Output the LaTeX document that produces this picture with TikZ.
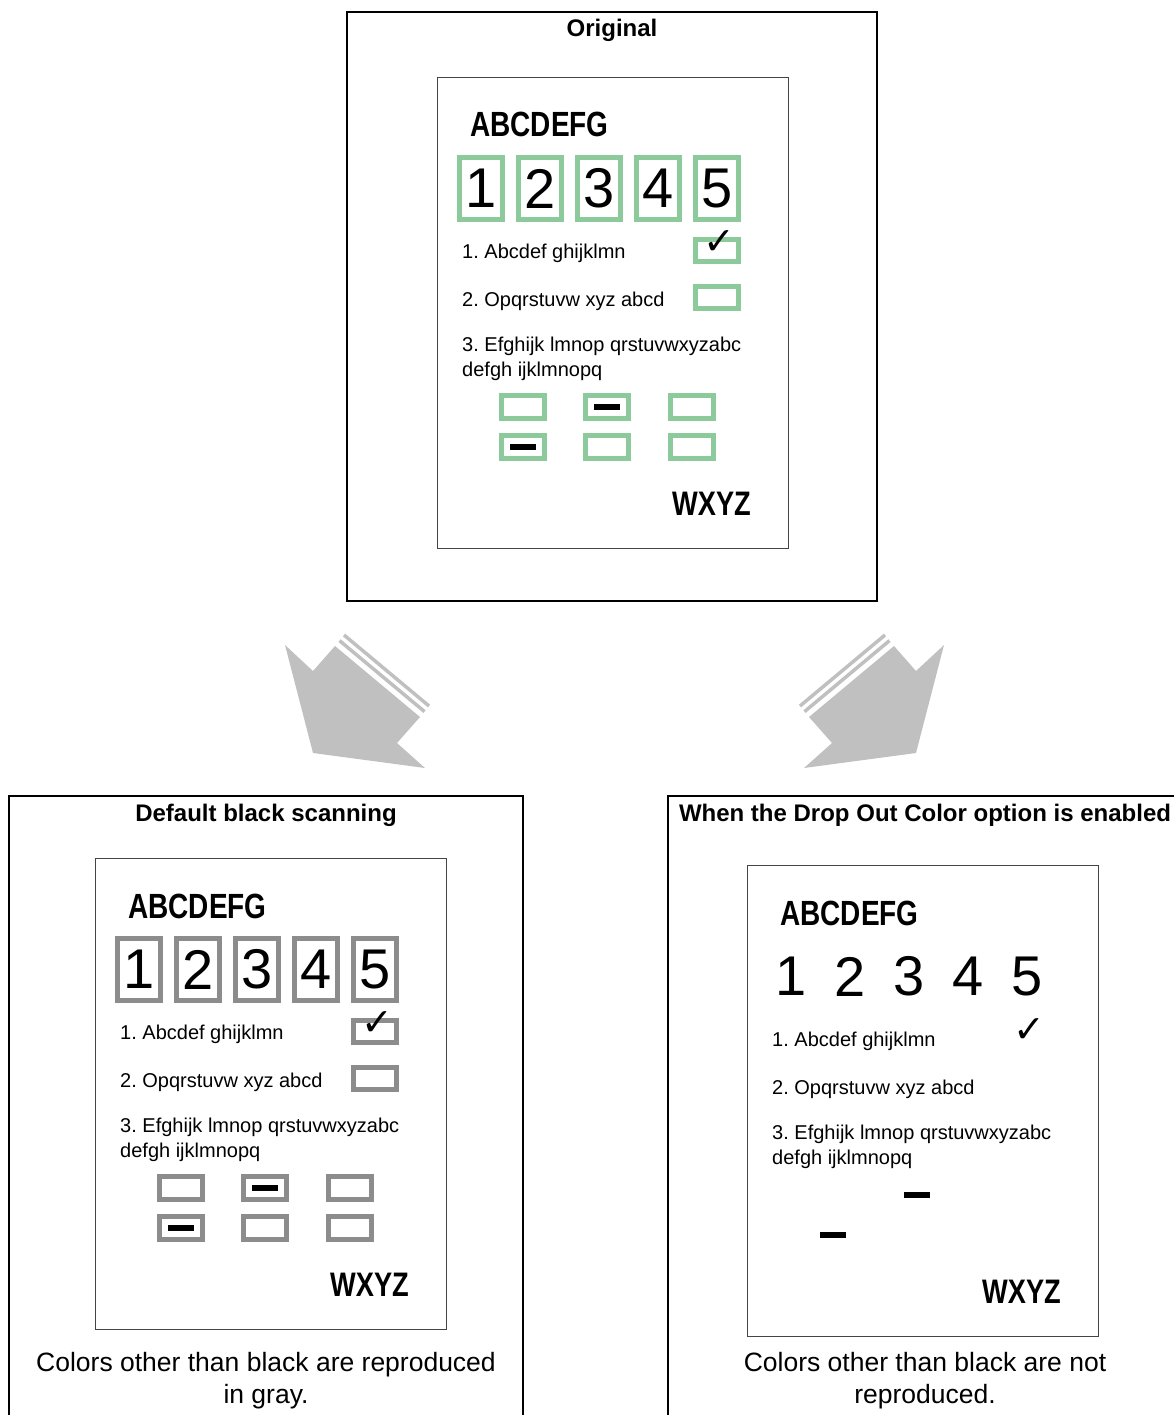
\documentclass[tikz,border=0pt]{standalone}
\usepackage{fontspec}
\setmainfont{Liberation Sans}
\newfontfamily\narrowbold[FakeStretch=0.8]{Liberation Sans}
\newfontfamily\symbolfont{DejaVu Sans}
\usetikzlibrary{positioning,calc}

\definecolor{formgreen}{HTML}{8CC99B}
\definecolor{formgray}{HTML}{8C8C8C}
\definecolor{arrowgray}{HTML}{C0C0C0}
\definecolor{edgegray}{HTML}{454545}

\tikzset{
  panel/.style={draw=black,line width=1.6pt},
  sheet/.style={draw=edgegray,line width=1.3pt,anchor=north west,inner sep=0pt,minimum width=351pt,minimum height=471pt},
  digitbox/.style={line width=5pt,minimum width=43pt,minimum height=62pt,inner sep=0pt,font=\fontsize{56}{56}\selectfont},
  tickbox/.style={line width=5pt,minimum width=43pt,minimum height=22pt,inner sep=0pt},
  markbox/.style={line width=5pt,minimum width=43pt,minimum height=23pt,inner sep=0pt},
  qtext/.style={anchor=base west,inner sep=0pt,align=left,font=\fontsize{20}{25}\selectfont},
  heading/.style={inner sep=0pt,font=\narrowbold\bfseries\fontsize{35}{35}\selectfont},
  paneltitle/.style={anchor=base,inner sep=0pt,font=\bfseries\fontsize{24}{24}\selectfont},
  capline/.style={anchor=base,inner sep=0pt,align=center,font=\fontsize{26.5}{32}\selectfont},
  pics/feedarrow/.style={code={
    \fill[arrowgray] (285,645) -- (313,671) -- (335,646) -- (420,717) -- (397,743)
      -- (425,768) -- (313,753) -- cycle;
    \draw[arrowgray,line width=3.5pt] (339.5,640.6) -- (424.5,711.6);
    \draw[arrowgray,line width=3.5pt] (344,635) -- (429,706);
  }}
}

% one scanned sheet: #1 name, #2 top left corner, #3 look of the boxes
\newcommand{\scanform}[3]{%
  \begin{scope}[shift={#2}]
    \node[sheet] (#1) at (0,0) {};
    \node[heading,anchor=base west] (#1-head) at (33,60) {ABCDEFG};
    \foreach \d [count=\i from 0] in {1,...,5}
      \node[digitbox,#3] (#1-d\d) at (44+59*\i,111.5) {\d};
    \node[tickbox,#3] (#1-c1) at (280,173.5) {};
    \node[tickbox,#3] (#1-c2) at (280,220.5) {};
    \node[inner sep=0pt,font=\symbolfont\fontsize{38}{38}\selectfont] (#1-tick) at (282,166) {✓};
    \node[qtext] (#1-q1) at (25,181.7) {1. Abcdef ghijklmn};
    \node[qtext] (#1-q2) at (25,229) {2. Opqrstuvw xyz abcd};
    \node[qtext] (#1-q3) at (25,299) {3. Efghijk lmnop qrstuvwxyzabc\\defgh ijklmnopq};
    \node[markbox,#3] (#1-m1) at (86,330) {};
    \node[markbox,#3] (#1-m2) at (170,330) {\rule{26pt}{6pt}};
    \node[markbox,#3] (#1-m3) at (255,330) {};
    \node[markbox,#3] (#1-m4) at (86,370) {\rule{26pt}{6pt}};
    \node[markbox,#3] (#1-m5) at (170,370) {};
    \node[markbox,#3] (#1-m6) at (255,370) {};
    \node[heading,anchor=base east,font=\narrowbold\bfseries\fontsize{34}{34}\selectfont] (#1-foot) at (314,438) {WXYZ};
  \end{scope}}

\begin{document}
\frenchspacing
\begin{tikzpicture}[x=1pt,y=-1pt]
  \useasboundingbox (0,0) rectangle (1174,1415);
  \clip (0,0) rectangle (1174,1415);
  % panels
  \draw[panel] (347,12) rectangle (877,601);
  \draw[panel] (9,796) rectangle (523,1430);
  \draw[panel] (668,796) rectangle (1182,1430);
  \node[paneltitle] (orig-title) at (612,37) {Original};
  \node[paneltitle] (gray-title) at (266,821) {Default black scanning};
  \node[paneltitle] (drop-title) at (925,821) {When the Drop Out Color option is enabled};
  % sheets
  \scanform{orig}{(437,77)}{draw=formgreen}
  \scanform{gray}{(95,858)}{draw=formgray}
  \scanform{drop}{(747,865)}{draw=none}
  % arrows
  \pic at (0,0) {feedarrow};
  \pic[xscale=-1] at (1229,0) {feedarrow};
  % captions
  \node[capline] (gray-cap) at (266,1403) {Colors other than black are reproduced\\in gray.};
  \node[capline] (drop-cap) at (925,1403) {Colors other than black are not\\reproduced.};
\end{tikzpicture}
\end{document}
